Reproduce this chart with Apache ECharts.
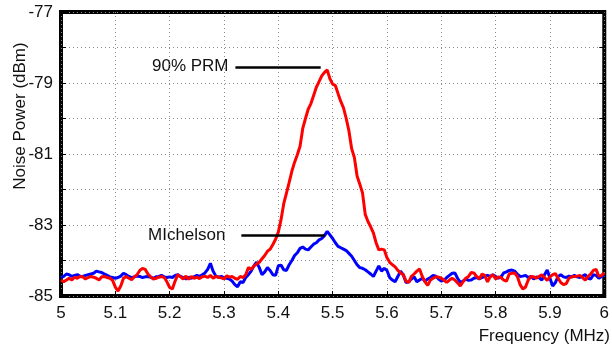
<!DOCTYPE html>
<html>
<head>
<meta charset="utf-8">
<script src="https://cdn.jsdelivr.net/npm/echarts@6/dist/echarts.min.js"></script>
<style>
html,body{margin:0;padding:0;background:#fff;}
#chart{width:612px;height:352px;}
</style>
</head>
<body>
<div id="chart"></div>
<script>
// Frequency samples (MHz)
var freqs = [
5.000,5.005,5.010,5.015,5.020,5.025,5.030,5.035,5.040,5.045,
5.050,5.055,5.060,5.065,5.070,5.075,5.080,5.085,5.090,5.095,
5.100,5.105,5.110,5.115,5.120,5.125,5.130,5.135,5.140,5.145,
5.150,5.155,5.160,5.165,5.170,5.175,5.180,5.185,5.190,5.195,
5.200,5.205,5.210,5.215,5.220,5.225,5.230,5.235,5.240,5.245,
5.250,5.255,5.260,5.265,5.270,5.275,5.280,5.285,5.290,5.295,
5.300,5.305,5.310,5.315,5.320,5.325,5.330,5.335,5.340,5.345,
5.350,5.355,5.360,5.365,5.370,5.375,5.380,5.385,5.390,5.395,
5.400,5.405,5.410,5.415,5.420,5.425,5.430,5.435,5.440,5.445,
5.450,5.455,5.460,5.465,5.470,5.475,5.480,5.485,5.490,5.495,
5.500,5.505,5.510,5.515,5.520,5.525,5.530,5.535,5.540,5.545,
5.550,5.555,5.560,5.565,5.570,5.575,5.580,5.585,5.590,5.595,
5.600,5.605,5.610,5.615,5.620,5.625,5.630,5.635,5.640,5.645,
5.650,5.655,5.660,5.665,5.670,5.675,5.680,5.685,5.690,5.695,
5.700,5.705,5.710,5.715,5.720,5.725,5.730,5.735,5.740,5.745,
5.750,5.755,5.760,5.765,5.770,5.775,5.780,5.785,5.790,5.795,
5.800,5.805,5.810,5.815,5.820,5.825,5.830,5.835,5.840,5.845,
5.850,5.855,5.860,5.865,5.870,5.875,5.880,5.885,5.890,5.895,
5.900,5.905,5.910,5.915,5.920,5.925,5.930,5.935,5.940,5.945,
5.950,5.955,5.960,5.965,5.970,5.975,5.980,5.985,5.990,5.995,
6.000
];

// 90% PRM noise power (dBm)
var prm = [
-84.55,-84.60,-84.55,-84.50,-84.55,-84.47,-84.50,-84.45,-84.46,-84.52,
-84.48,-84.45,-84.47,-84.50,-84.55,-84.46,-84.45,-84.48,-84.50,-84.56,
-84.75,-84.86,-84.72,-84.50,-84.45,-84.50,-84.54,-84.46,-84.40,-84.28,
-84.22,-84.25,-84.38,-84.46,-84.52,-84.50,-84.47,-84.45,-84.48,-84.60,
-84.76,-84.80,-84.58,-84.40,-84.46,-84.52,-84.44,-84.53,-84.45,-84.50,
-84.47,-84.51,-84.46,-84.44,-84.48,-84.42,-84.50,-84.45,-84.47,-84.49,
-84.52,-84.43,-84.47,-84.45,-84.50,-84.53,-84.45,-84.48,-84.40,-84.20,
-84.25,-84.16,-84.10,-84.05,-83.95,-83.86,-83.74,-83.68,-83.55,-83.40,
-83.20,-82.85,-82.40,-82.10,-81.80,-81.48,-81.23,-81.02,-80.78,-80.28,
-80.00,-79.74,-79.58,-79.35,-79.12,-78.96,-78.80,-78.70,-78.63,-78.88,
-79.03,-79.07,-79.30,-79.52,-79.70,-80.00,-80.35,-80.85,-81.10,-81.62,
-81.85,-82.10,-82.70,-82.90,-83.05,-83.22,-83.50,-83.70,-83.68,-83.70,
-83.92,-84.05,-84.12,-84.18,-84.28,-84.35,-84.40,-84.58,-84.62,-84.45,
-84.38,-84.30,-84.24,-84.45,-84.60,-84.70,-84.55,-84.50,-84.46,-84.47,
-84.50,-84.55,-84.62,-84.55,-84.50,-84.55,-84.63,-84.72,-84.60,-84.50,
-84.45,-84.34,-84.35,-84.45,-84.52,-84.38,-84.42,-84.60,-84.46,-84.40,
-84.52,-84.46,-84.48,-84.55,-84.58,-84.38,-84.36,-84.35,-84.45,-84.68,
-84.80,-84.75,-84.55,-84.45,-84.46,-84.50,-84.45,-84.40,-84.48,-84.56,
-84.46,-84.40,-84.37,-84.50,-84.62,-84.68,-84.65,-84.50,-84.46,-84.45,
-84.44,-84.42,-84.48,-84.55,-84.45,-84.38,-84.28,-84.25,-84.45,-84.42,
-84.35
];

// Michelson noise power (dBm)
var michelson = [
-84.48,-84.45,-84.38,-84.40,-84.45,-84.42,-84.40,-84.44,-84.45,-84.42,
-84.40,-84.38,-84.36,-84.30,-84.32,-84.34,-84.38,-84.42,-84.46,-84.48,
-84.50,-84.48,-84.44,-84.36,-84.40,-84.45,-84.48,-84.46,-84.44,-84.45,
-84.48,-84.46,-84.45,-84.47,-84.50,-84.46,-84.45,-84.42,-84.46,-84.48,
-84.46,-84.48,-84.42,-84.40,-84.45,-84.48,-84.52,-84.47,-84.50,-84.46,
-84.42,-84.45,-84.40,-84.35,-84.25,-84.08,-84.30,-84.44,-84.47,-84.45,
-84.48,-84.50,-84.52,-84.58,-84.68,-84.74,-84.60,-84.62,-84.48,-84.40,
-84.30,-84.15,-84.05,-84.20,-84.40,-84.32,-84.20,-84.28,-84.40,-84.42,
-84.15,-84.13,-84.26,-84.28,-84.12,-84.00,-83.86,-83.78,-83.66,-83.62,
-83.68,-83.70,-83.62,-83.54,-83.50,-83.42,-83.38,-83.30,-83.18,-83.28,
-83.38,-83.50,-83.60,-83.64,-83.68,-83.72,-83.80,-83.88,-84.00,-84.12,
-84.20,-84.22,-84.26,-84.32,-84.38,-84.45,-84.30,-84.15,-84.30,-84.22,
-84.28,-84.48,-84.55,-84.60,-84.45,-84.30,-84.40,-84.62,-84.60,-84.52,
-84.46,-84.60,-84.55,-84.50,-84.58,-84.52,-84.48,-84.42,-84.44,-84.52,
-84.58,-84.55,-84.48,-84.42,-84.36,-84.35,-84.50,-84.62,-84.58,-84.52,
-84.56,-84.55,-84.50,-84.48,-84.52,-84.48,-84.45,-84.42,-84.45,-84.40,
-84.45,-84.50,-84.46,-84.35,-84.32,-84.28,-84.27,-84.30,-84.38,-84.45,
-84.44,-84.42,-84.48,-84.45,-84.52,-84.46,-84.48,-84.55,-84.40,-84.27,
-84.50,-84.72,-84.62,-84.45,-84.40,-84.46,-84.48,-84.44,-84.46,-84.42,
-84.46,-84.48,-84.44,-84.40,-84.50,-84.52,-84.40,-84.42,-84.50,-84.45,
-84.42
];

// Axis tick labels
var xTickLabels = ['5','5.1','5.2','5.3','5.4','5.5','5.6','5.7','5.8','5.9','6'];
var yTickLabels = ['-85','-83','-81','-79','-77'];

// Annotation lines (data coordinates)
var prmLine = [[5.321, -78.56], [5.478, -78.56]];
var michLine = [[5.332, -83.28], [5.486, -83.28]];

function pairs(xs, ys) {
  var out = [];
  for (var i = 0; i < xs.length; i++) out.push([xs[i], ys[i]]);
  return out;
}

var FONT = '"Liberation Sans", Arial, Helvetica, sans-serif';
var chart = echarts.init(document.getElementById('chart'), null, {renderer: 'canvas'});

var gridLine = {show: true, lineStyle: {color: '#8c8c8c', width: 1, type: [1, 3]}};

var option = {
  animation: false,
  backgroundColor: '#ffffff',
  grid: {left: 61, right: 3, top: 12, bottom: 56, show: true, borderColor: '#000', borderWidth: 4, backgroundColor: 'transparent'},
  xAxis: [{
    type: 'value', min: 5, max: 6, interval: 0.1,
    axisLine: {show: false},
    axisTick: {show: true, inside: true, length: 5, lineStyle: {color: '#000', width: 1}},
    splitLine: gridLine,
    axisLabel: {
      color: '#111', fontSize: 17, fontFamily: FONT, margin: 9,
      formatter: function (v) {
        var i = Math.round((v - 5) * 10);
        return xTickLabels[i] !== undefined ? xTickLabels[i] : '';
      }
    }
  }],
  yAxis: [{
    type: 'value', min: -85, max: -77, interval: 1,
    axisLine: {show: false},
    axisTick: {show: true, inside: true, length: 5, lineStyle: {color: '#000', width: 1}},
    splitLine: gridLine,
    axisLabel: {
      color: '#111', fontSize: 17, fontFamily: FONT, margin: 8,
      formatter: function (v) {
        var r = Math.round(v);
        var s = String(r);
        return yTickLabels.indexOf(s) >= 0 ? s : '';
      }
    }
  }, {
    type: 'value', min: -85, max: -77, interval: 1, position: 'right',
    axisLine: {show: false},
    axisTick: {show: true, inside: true, length: 5, lineStyle: {color: '#000', width: 1}},
    splitLine: {show: false},
    axisLabel: {show: false}
  }],
  series: [{
    name: 'Michelson', type: 'line', data: pairs(freqs, michelson),
    showSymbol: false, symbol: 'none',
    lineStyle: {color: '#0000ff', width: 3},
    z: 3,
    markLine: {
      silent: true, symbol: 'none', animation: false,
      label: {show: false},
      lineStyle: {color: '#000', width: 2.5, type: 'solid'},
      data: [[{coord: michLine[0]}, {coord: michLine[1]}]]
    }
  }, {
    name: '90% PRM', type: 'line', data: pairs(freqs, prm),
    showSymbol: false, symbol: 'none',
    lineStyle: {color: '#ff0000', width: 3},
    z: 4,
    markLine: {
      silent: true, symbol: 'none', animation: false,
      label: {show: false},
      lineStyle: {color: '#000', width: 2.5, type: 'solid'},
      data: [[{coord: prmLine[0]}, {coord: prmLine[1]}]]
    }
  }],
  graphic: [
    {type: 'text', left: 152, top: 58, style: {text: '90% PRM', fontSize: 17, fontFamily: FONT, fill: '#111'}},
    {type: 'text', left: 148, top: 227, style: {text: 'MIchelson', fontSize: 17, fontFamily: FONT, fill: '#111'}},
    {type: 'text', right: 2, top: 328, style: {text: 'Frequency (MHz)', fontSize: 17, fontFamily: FONT, fill: '#111'}},
    {type: 'text', x: 20, y: 116, rotation: Math.PI / 2,
      style: {text: 'Noise Power (dBm)', fontSize: 17, fontFamily: FONT, fill: '#111', align: 'center', verticalAlign: 'middle'}}
  ]
};
chart.setOption(option);
</script>
</body>
</html>
